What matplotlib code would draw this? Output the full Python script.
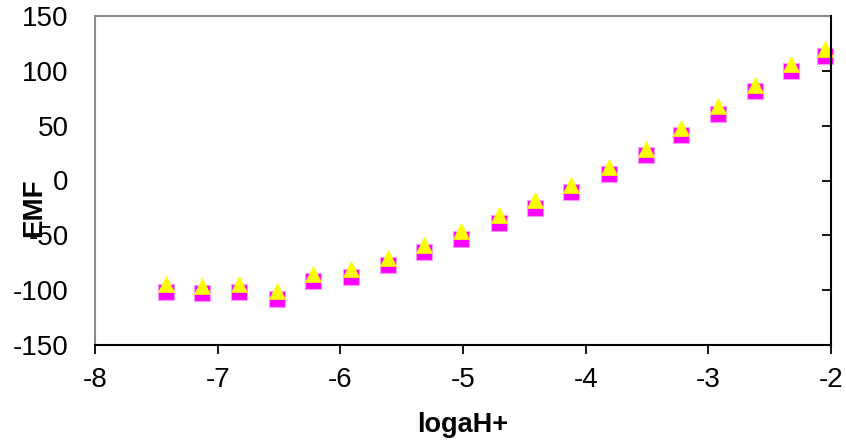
import matplotlib
matplotlib.use("Agg")
import matplotlib.pyplot as plt

plt.rcParams['font.family'] = ['Liberation Sans', 'DejaVu Sans']

# pH sweep, log activity of H+
log_aH = [-7.42, -7.13, -6.83, -6.52, -6.22, -5.91, -5.61, -5.32, -5.02, -4.71,
          -4.41, -4.12, -3.81, -3.51, -3.22, -2.92, -2.62, -2.33, -2.05]
# cell potential, two runs
emf_run1 = [-101.5, -103.0, -101.5, -107.6, -91.5, -87.8, -77.2, -65.6, -52.9, -38.9,
            -24.9, -10.9, 5.5, 23.1, 41.7, 60.8, 81.4, 100.3, 113.3]
emf_run2 = [-94.8, -96.0, -94.6, -100.6, -85.0, -80.9, -70.5, -58.4, -45.8, -31.6,
            -17.8, -3.9, 12.6, 28.9, 48.0, 67.8, 87.5, 106.4, 120.1]

x_ticks = [-8, -7, -6, -5, -4, -3, -2]
y_ticks = [-150, -100, -50, 0, 50, 100, 150]

fig = plt.figure(figsize=(8.46, 4.41), dpi=100)
ax = fig.add_axes([95/846, 1 - 345/441, 736/846, 329/441])

ax.plot(log_aH, emf_run1, linestyle='none', marker='s', markersize=11,
        markerfacecolor='#FF00FF', markeredgecolor='#FF9BFF', markeredgewidth=0.8,
        clip_on=False, zorder=2)
ax.plot(log_aH, emf_run2, linestyle='none', marker='^', markersize=11,
        markerfacecolor='#FFFF00', markeredgecolor='#FFFF00', markeredgewidth=0.5,
        clip_on=False, zorder=2.1)

ax.set_xlim(-8, -2)
ax.set_ylim(-150, 150)
ax.set_xticks(x_ticks)
ax.set_yticks(y_ticks)
ax.set_xticklabels([str(v) for v in x_ticks])
ax.set_yticklabels([str(v) for v in y_ticks])

# frame: gray plot border, black value/category axes
for side in ['left', 'top']:
    ax.spines[side].set_color('#8a8a8a')
    ax.spines[side].set_linewidth(1.5)
for side in ['right', 'bottom']:
    ax.spines[side].set_color('black')
    ax.spines[side].set_linewidth(1.5)
    ax.spines[side].set_zorder(3)

ax.tick_params(axis='x', direction='out', length=6.5, width=1.3, colors='black',
               labelsize=20, pad=9)
ax.tick_params(axis='y', left=False, right=True, labelleft=True, labelright=False,
               direction='in', length=6.5, width=1.3, labelsize=20, pad=19)

ax.set_xlabel('logaH+', fontsize=19.5, fontweight='bold', labelpad=14)
fig.text(34/846, 1 - 208/441, 'EMF', rotation=90, fontsize=20, fontweight='bold',
         ha='center', va='center')

fig.savefig('out.png', dpi=100)
